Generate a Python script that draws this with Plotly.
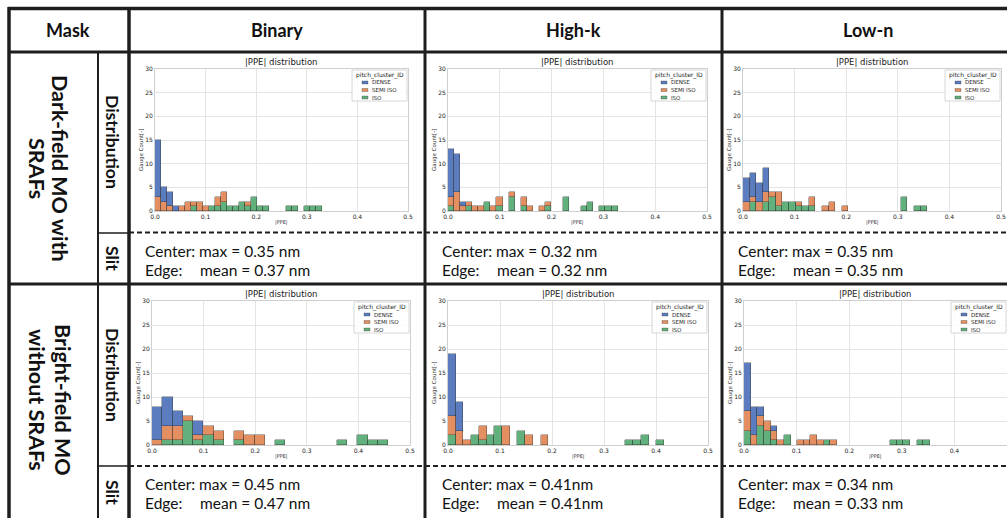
import plotly.graph_objects as go

W, H = 1007, 518

# ---------------- data ----------------
categories = ["DENSE", "SEMI ISO", "ISO"]
cat_colors = {"DENSE": "#5b7dbf", "SEMI ISO": "#e38f62", "ISO": "#62b07b"}
mask_types = ["Binary", "High-k", "Low-n"]
row_name_lines = [["Dark-field MO with", "SRAFs"], ["Bright-field MO", "without SRAFs"]]
x_tick_vals = [0.0, 0.1, 0.2, 0.3, 0.4, 0.5]
x_tick_text = ["0.0", "0.1", "0.2", "0.3", "0.4", "0.5"]
y_tick_vals = [0, 5, 10, 15, 20, 25, 30]
y_tick_text = ["0", "5", "10", "15", "20", "25", "30"]

# Dark-field MO with SRAFs
df_binary_width = 0.01181
df_binary_dense = [12, 3, 3, 1, 0, 0, 0, 0, 0, 0, 0, 0, 0, 0, 0, 0, 0, 0, 0, 0, 0, 0, 0, 0, 0, 0, 0, 0]
df_binary_semi  = [3, 2, 1, 0, 1, 2, 1, 2, 1, 0, 2, 2, 0, 0, 0, 1, 0, 0, 0, 0, 0, 0, 0, 0, 0, 0, 0, 0]
df_binary_iso   = [0, 0, 0, 0, 0, 0, 1, 0, 0, 1, 1, 2, 1, 1, 2, 1, 3, 1, 1, 0, 0, 0, 1, 1, 0, 1, 1, 1]

df_highk_width = 0.01169
df_highk_dense = [10, 8, 1, 0, 0, 0, 0, 0, 0, 0, 0, 0, 0, 0, 0, 0, 0, 0, 0, 0, 0, 0, 0, 0, 0, 0, 0, 0]
df_highk_semi  = [2, 4, 1, 1, 1, 1, 0, 1, 2, 0, 1, 0, 2, 1, 0, 1, 1, 0, 0, 0, 0, 0, 0, 0, 0, 0, 0, 0]
df_highk_iso   = [1, 0, 0, 1, 0, 0, 2, 0, 1, 0, 3, 0, 1, 0, 0, 0, 1, 0, 0, 3, 0, 0, 1, 2, 0, 1, 1, 1]

df_lown_width = 0.01275
df_lown_dense = [5, 5, 4, 5, 0, 0, 0, 0, 0, 0, 0, 0, 0, 0, 0, 0, 0, 0, 0, 0, 0, 0, 0, 0, 0, 0, 0, 0]
df_lown_semi  = [2, 1, 2, 2, 1, 3, 0, 0, 1, 0, 2, 0, 1, 2, 0, 1, 0, 0, 0, 0, 0, 0, 0, 0, 0, 0, 0, 0]
df_lown_iso   = [0, 2, 0, 2, 3, 1, 2, 2, 1, 1, 1, 0, 0, 0, 0, 0, 0, 0, 0, 0, 0, 0, 0, 0, 3, 0, 1, 1]

# Bright-field MO without SRAFs
bf_binary_width = 0.0199
bf_binary_dense = [7, 6, 3, 0, 3, 0, 0, 0, 0, 0, 0, 0, 0, 0, 0, 0, 0, 0, 0, 0, 0, 0, 0]
bf_binary_semi  = [1, 3, 3, 1, 1, 2, 2, 0, 2, 2, 2, 0, 0, 0, 0, 0, 0, 0, 0, 0, 0, 0, 0]
bf_binary_iso   = [0, 1, 1, 5, 1, 2, 1, 0, 1, 0, 0, 0, 1, 0, 0, 0, 0, 0, 1, 0, 2, 1, 1]

bf_highk_width = 0.01484
bf_highk_dense = [13, 6, 0, 0, 0, 0, 0, 0, 0, 0, 0, 0, 0, 0, 0, 0, 0, 0, 0, 0, 0, 0, 0, 0, 0, 0, 0, 0]
bf_highk_semi  = [4, 3, 1, 0, 3, 0, 0, 4, 0, 0, 2, 0, 2, 0, 0, 0, 0, 0, 0, 0, 0, 0, 0, 0, 0, 0, 0, 0]
bf_highk_iso   = [2, 0, 0, 2, 1, 2, 4, 0, 0, 3, 0, 0, 0, 0, 0, 0, 0, 0, 0, 0, 0, 0, 0, 1, 1, 2, 0, 1]

bf_lown_width = 0.01263
bf_lown_dense = [10, 6, 2, 0, 1, 0, 0, 0, 0, 0, 0, 0, 0, 0, 0, 0, 0, 0, 0, 0, 0, 0, 0, 0, 0, 0, 0, 0]
bf_lown_semi  = [4, 2, 2, 2, 2, 1, 0, 0, 1, 1, 2, 1, 0, 1, 0, 0, 0, 0, 0, 0, 0, 0, 0, 0, 0, 0, 0, 0]
bf_lown_iso   = [3, 0, 4, 3, 1, 0, 2, 0, 0, 0, 0, 0, 1, 0, 0, 0, 0, 0, 0, 0, 0, 0, 1, 1, 1, 0, 1, 1]

slit_center = [["Center: max = 0.35 nm", "Center: max = 0.32 nm", "Center: max = 0.35 nm"],
               ["Center: max = 0.45 nm", "Center: max = 0.41nm", "Center: max = 0.34 nm"]]
slit_edge = [["mean = 0.37 nm", "mean = 0.32 nm", "mean = 0.35 nm"],
             ["mean = 0.47 nm", "mean = 0.41nm", "mean = 0.33 nm"]]

hist = [
    [(df_binary_width, df_binary_dense, df_binary_semi, df_binary_iso),
     (df_highk_width, df_highk_dense, df_highk_semi, df_highk_iso),
     (df_lown_width, df_lown_dense, df_lown_semi, df_lown_iso)],
    [(bf_binary_width, bf_binary_dense, bf_binary_semi, bf_binary_iso),
     (bf_highk_width, bf_highk_dense, bf_highk_semi, bf_highk_iso),
     (bf_lown_width, bf_lown_dense, bf_lown_semi, bf_lown_iso)],
]

# ---------------- geometry (pixels) ----------------
def px(x):
    return x / W

def py(y):
    return 1 - y / H

plot_boxes = [
    [(155, 69, 408, 211), (448, 69, 707, 211), (743, 69, 1001, 211)],
    [(152, 301, 410, 445), (448, 301, 708, 445), (744, 301, 1007, 445)],
]

TABLE_FONT = "Lato, 'Open Sans', sans-serif"
CHART_FONT = "DejaVu Sans, sans-serif"
LINE = "#1e1e1e"

fig = go.Figure()
layout_axes = {}
annotations = []
shapes = []


def ann(x, y, text, size, family, color="#111", xanchor="center", yanchor="middle", angle=0):
    annotations.append(dict(x=px(x), y=py(y), xref="paper", yref="paper", text=text,
                            showarrow=False, xanchor=xanchor, yanchor=yanchor, textangle=angle,
                            font=dict(size=size, family=family, color=color)))


k = 0
for r in range(2):
    for c in range(3):
        k += 1
        x0, y0, x1, y1 = plot_boxes[r][c]
        w, dense, semi, iso = hist[r][c]
        xa = "x" if k == 1 else f"x{k}"
        ya = "y" if k == 1 else f"y{k}"
        series = {"ISO": iso, "SEMI ISO": semi, "DENSE": dense}
        for name in ["ISO", "SEMI ISO", "DENSE"]:
            vals = series[name]
            xs = [(i + 0.5) * w for i, v in enumerate(vals) if v > 0]
            ys = [v for v in vals if v > 0]
            fig.add_trace(go.Bar(
                x=xs, y=ys, width=w, name=name, showlegend=False,
                marker=dict(color=cat_colors[name],
                            line=dict(color="rgba(45,45,45,0.6)", width=0.6)),
                xaxis=xa, yaxis=ya,
            ))
        xkey = "xaxis" if k == 1 else f"xaxis{k}"
        ykey = "yaxis" if k == 1 else f"yaxis{k}"
        common = dict(
            tickfont=dict(size=6, family=CHART_FONT, color="#222"),
            showgrid=True, gridcolor="#e4e4e4", gridwidth=1,
            showline=True, linecolor="#cfcfcf", linewidth=1, mirror=True,
            zeroline=False, ticks="", ticklen=0, automargin=False,
        )
        layout_axes[xkey] = dict(domain=[px(x0), px(x1)], anchor=ya, range=[0, 0.5],
                                 tickvals=x_tick_vals, ticktext=x_tick_text, **common)
        layout_axes[ykey] = dict(domain=[py(y1), py(y0)], anchor=xa, range=[0, 30],
                                 tickvals=y_tick_vals, ticktext=y_tick_text, **common)
        cx = (x0 + x1) / 2
        ann(cx, y0 - 7, "|PPE| distribution", 8.5, CHART_FONT, "#222")
        ann(cx, y1 + 11, "|PPE|", 5, CHART_FONT, "#333")
        ann(x0 - 14, (y0 + y1) / 2 + 10, "Gauge Count[-]", 5.5, CHART_FONT, "#333", angle=-90)
        # manual legend
        lx1 = min(x1 - 1, 1006)
        lx0 = lx1 - 55
        ly0 = y0 + 1
        ly1 = ly0 + 31
        shapes.append(dict(type="rect", xref="paper", yref="paper",
                           x0=px(lx0), x1=px(lx1), y0=py(ly1), y1=py(ly0),
                           line=dict(color="#d6d6d6", width=1), fillcolor="rgba(255,255,255,0.85)"))
        ann((lx0 + lx1) / 2, ly0 + 5, "pitch_cluster_ID", 6, CHART_FONT, "#222")
        for j, name in enumerate(categories):
            ey = ly0 + 12.5 + j * 7.5
            shapes.append(dict(type="rect", xref="paper", yref="paper",
                               x0=px(lx0 + 10), x1=px(lx0 + 16), y0=py(ey + 1.5), y1=py(ey - 1.5),
                               line=dict(color="rgba(45,45,45,0.6)", width=0.5),
                               fillcolor=cat_colors[name]))
            ann(lx0 + 18, ey, name, 5.5, CHART_FONT, "#222", xanchor="left")

# ---------------- table lines ----------------
def hline(y, xa, xb, width=3, dash=None):
    d = dict(type="line", xref="paper", yref="paper", x0=px(xa), x1=px(xb), y0=py(y), y1=py(y),
             line=dict(color=LINE, width=width))
    if dash:
        d["line"]["dash"] = dash
    shapes.append(d)


def vline(x, ya, yb, width=3):
    shapes.append(dict(type="line", xref="paper", yref="paper", x0=px(x), x1=px(x), y0=py(ya), y1=py(yb),
                       line=dict(color=LINE, width=width)))


hline(8.5, 8, 1007, 3.5)
hline(52, 8, 1007, 3)
hline(284, 8, 1007, 3)
vline(9, 7, 518, 3.5)
vline(129, 7, 518, 3.5)
vline(425, 7, 518, 3)
vline(722, 7, 518, 3)
vline(98, 52, 518, 2)
hline(233, 98, 129, 1.5)
hline(466, 98, 129, 1.5)
hline(232.5, 129, 1007, 2, dash="5px,3px")
hline(466, 129, 1007, 2, dash="5px,3px")

# ---------------- table text ----------------
ann(68, 30, "<b>Mask</b>", 18, TABLE_FONT)
header_x = [277, 573, 868]
for name, hx in zip(mask_types, header_x):
    ann(hx, 30, f"<b>{name}</b>", 18, TABLE_FONT)

row_centers = [168, 400]
row_line_x = [[60, 37], [63, 37]]
dist_centers = [142, 375]
slit_centers = [258, 492]
for r in range(2):
    for li, line_text in enumerate(row_name_lines[r]):
        ann(row_line_x[r][li], row_centers[r], f"<b>{line_text}</b>", 21.5, TABLE_FONT, angle=90)
    ann(113, dist_centers[r], "<b>Distribution</b>", 17.5, TABLE_FONT, angle=90)
    ann(113, slit_centers[r], "<b>Slit</b>", 17.5, TABLE_FONT, angle=90)

slit_x = [143, 440, 736]
center_y = [251, 484]
edge_y = [270, 503]
for r in range(2):
    for c in range(3):
        ann(slit_x[c], center_y[r], slit_center[r][c], 15.5, TABLE_FONT, xanchor="left")
        ann(slit_x[c], edge_y[r], "Edge:", 15.5, TABLE_FONT, xanchor="left")
        ann(slit_x[c] + 55, edge_y[r], slit_edge[r][c], 15.5, TABLE_FONT, xanchor="left")

fig.update_layout(
    width=W, height=H, margin=dict(l=0, r=0, t=0, b=0, autoexpand=False),
    paper_bgcolor="white", plot_bgcolor="white",
    barmode="stack", bargap=0, showlegend=False,
    annotations=annotations, shapes=shapes,
    **layout_axes,
)

fig.write_html("out.html")
